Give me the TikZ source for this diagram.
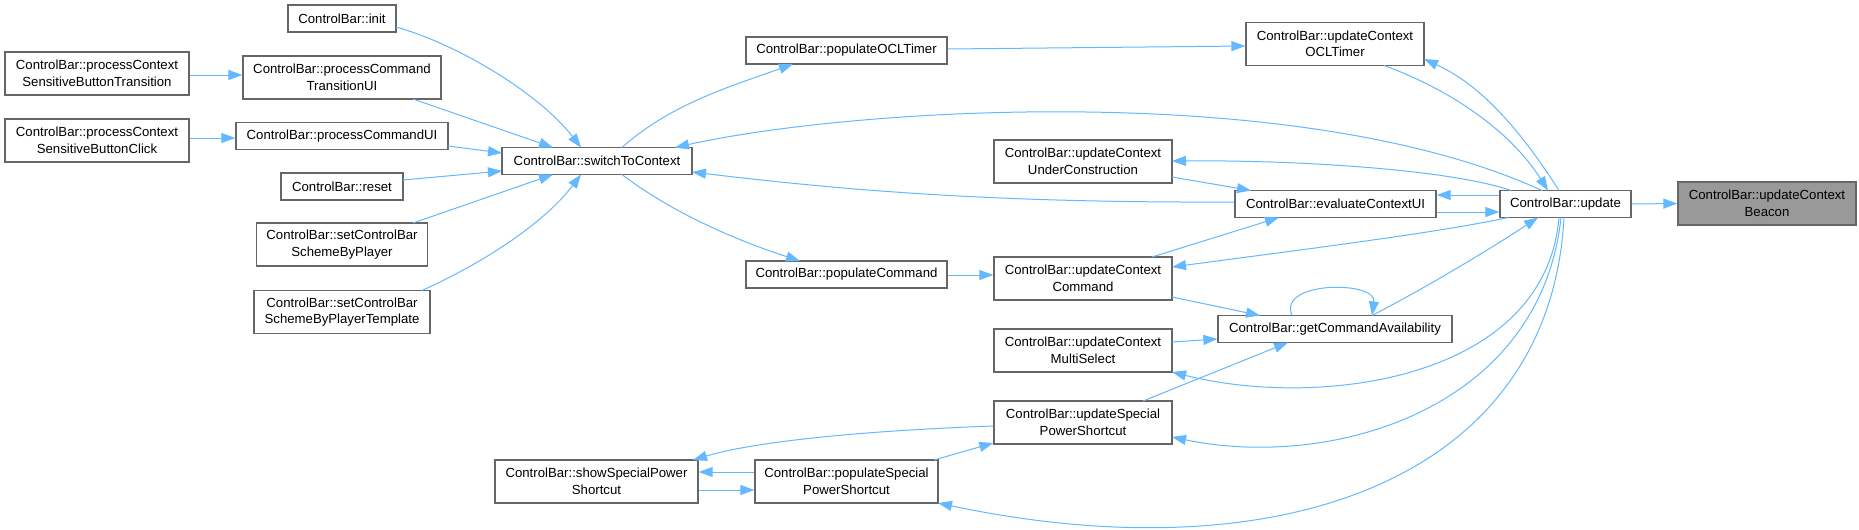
\documentclass[tikz,border=0pt]{standalone}
\usepackage{fontspec}
\setmainfont{Liberation Sans}
\usetikzlibrary{arrows.meta,calc}
\definecolor{edgeblue}{HTML}{63B8FF}
\definecolor{boxgray}{HTML}{666666}
\definecolor{rootfill}{HTML}{999999}
\begin{document}
\begin{tikzpicture}[x=0.75pt,y=-0.75pt,
  fn/.style={draw=boxgray, line width=1pt, fill=white, inner sep=0pt, align=center,
             font=\fontsize{9.9}{12.4}\selectfont},
  fn1/.style={fn, minimum height=20.25pt},
  fn2/.style={fn, minimum height=32.25pt},
  bw/.style={minimum width=#1*0.75pt},
  lnk/.style={draw=edgeblue, line width=0.75pt, -{Triangle[length=10.5pt,width=7.5pt]}}
]
\useasboundingbox[fill=white] (0,0) rectangle (1859,529);

% nodes
\node[fn1,bw=108] (init) at (342,18.5) {ControlBar::init};
\node[fn2,bw=184] (pcsbt) at (97,73.5) {ControlBar::processContext\\SensitiveButtonTransition};
\node[fn2,bw=198] (pctui) at (342,77.5) {ControlBar::processCommand\\TransitionUI};
\node[fn2,bw=184] (pcsbc) at (97,140.5) {ControlBar::processContext\\SensitiveButtonClick};
\node[fn1,bw=212] (pcui) at (342,136) {ControlBar::processCommandUI};
\node[fn1,bw=190] (sw) at (597,161) {ControlBar::switchToContext};
\node[fn1,bw=122] (reset) at (342,186.5) {ControlBar::reset};
\node[fn2,bw=171] (setp) at (342,244.5) {ControlBar::setControlBar\\SchemeByPlayer};
\node[fn2,bw=176] (setpt) at (342,312) {ControlBar::setControlBar\\SchemeByPlayerTemplate};
\node[fn1,bw=201] (popocl) at (846.5,50.5) {ControlBar::populateOCLTimer};
\node[fn2,bw=178] (ucocl) at (1335,44) {ControlBar::updateContext\\OCLTimer};
\node[fn2,bw=178] (ucuc) at (1083,161.5) {ControlBar::updateContext\\UnderConstruction};
\node[fn1,bw=201] (eval) at (1335.5,204) {ControlBar::evaluateContextUI};
\node[fn1,bw=131] (upd) at (1565.5,204) {ControlBar::update};
\node[fn2,bw=178,fill=rootfill] (beacon) at (1767,203.5) {ControlBar::updateContext\\Beacon};
\node[fn1,bw=201] (popcmd) at (846.5,274.5) {ControlBar::populateCommand};
\node[fn2,bw=178] (uccmd) at (1083,278.5) {ControlBar::updateContext\\Command};
\node[fn1,bw=234] (getca) at (1335,329) {ControlBar::getCommandAvailability};
\node[fn2,bw=178] (ucms) at (1083,350.5) {ControlBar::updateContext\\MultiSelect};
\node[fn2,bw=178] (ucsp) at (1083,422.5) {ControlBar::updateSpecial\\PowerShortcut};
\node[fn2,bw=203] (showsp) at (596.5,481.5) {ControlBar::showSpecialPower\\Shortcut};
\node[fn2,bw=183] (popsp) at (846.5,481.5) {ControlBar::populateSpecial\\PowerShortcut};

% edges
\draw[lnk] (upd.east) -- (beacon.west);
\draw[lnk] ($(init.center)+(54,8.5)$) .. controls +(64,18) and +(-41,-53) .. ($(sw.center)+(-16,-13.5)$);
\draw[lnk] ($(pctui.center)+(71,21.5)$) -- ($(sw.center)+(-44,-13.5)$);
\draw[lnk] ($(pcui.center)+(106,10)$) -- ($(sw.center)+(-95,-8)$);
\draw[lnk] ($(reset.center)+(61,-6.5)$) -- ($(sw.center)+(-95,10)$);
\draw[lnk] ($(setp.center)+(71,-21.5)$) -- ($(sw.center)+(-44,13.5)$);
\draw[lnk] ($(setpt.center)+(80,-21.5)$) .. controls +(77,-35) and +(-31,41) .. ($(sw.center)+(-16,13.5)$);
\draw[lnk] ($(pcsbt.east)+(0,1.5)$) -- ($(pctui.west)+(0,-2.5)$);
\draw[lnk] ($(pcsbc.east)+(0,-2.5)$) -- ($(pcui.west)+(0,2)$);
\draw[lnk] ($(sw.center)+(25,-13.5)$) .. controls +(50,-45) and +(-55,20) .. ($(popocl.center)+(-53.5,13.5)$);
\draw[lnk] ($(popocl.east)+(0,-1.5)$) -- ($(ucocl.west)+(0,2)$);
\draw[lnk] ($(sw.center)+(25,13.5)$) .. controls +(55,42) and +(-55,-18) .. ($(popcmd.center)+(-46.5,-13.5)$);
\draw[lnk] ($(popcmd.east)+(0,0.5)$) -- ($(uccmd.west)+(0,-3.5)$);
\draw[lnk] ($(upd.center)+(-23.5,-13.5)$) .. controls +(-242,-111) and +(180,-40) .. ($(sw.center)+(78,-13.5)$);
\draw[lnk] ($(ucocl.center)+(49,21.5)$) .. controls +(66,24) and +(-38,-60) .. ($(upd.center)+(-17.5,-13.5)$);
\draw[lnk] ($(upd.center)+(-6.5,-13.5)$) .. controls +(-39,-61) and +(57,26) .. ($(ucocl.center)+(89,15)$);
\draw[lnk] ($(upd.center)+(-54.5,-13.5)$) .. controls +(-61,-21) and +(127,-1) .. ($(ucuc.center)+(89,-0.5)$);
\draw[lnk] ($(upd.west)+(0,-9)$) -- ($(eval.east)+(0,-9)$);
\draw[lnk] ($(eval.east)+(0,8)$) -- ($(upd.west)+(0,8)$);
\draw[lnk] ($(eval.west)+(0,-2)$) .. controls +(-235,1) and +(158,19) .. ($(sw.center)+(95,11)$);
\draw[lnk] ($(ucuc.center)+(89,15.5)$) -- ($(eval.center)+(-84.5,-13.5)$);
\draw[lnk] ($(uccmd.center)+(69,-21.5)$) -- ($(eval.center)+(-56.5,13.5)$);
\draw[lnk] ($(upd.center)+(-57.5,13.5)$) .. controls +(-68,15) and +(127,-17) .. ($(uccmd.center)+(89,-11.5)$);
\draw[lnk] ($(uccmd.center)+(89,18.5)$) -- ($(getca.center)+(-75,-13.5)$);
\draw[lnk] ($(getca.center)+(-43,-13.5)$) .. controls +(-15,-35) and +(5,-35) .. ($(getca.center)+(37,-13.5)$);
\draw[lnk] ($(getca.center)+(37,-13.5)$) .. controls +(50,-26) and +(-58,38) .. ($(upd.center)+(-27.5,13.5)$);
\draw[lnk] ($(ucms.center)+(89,-8.5)$) -- ($(getca.west)+(0,10)$);
\draw[lnk] ($(upd.center)+(-6.5,13.5)$) .. controls +(-14,163) and +(147,37) .. ($(ucms.center)+(89,21.5)$);
\draw[lnk] ($(upd.center)+(-4.5,13.5)$) .. controls +(-21,193) and +(158,33) .. ($(ucsp.center)+(89,14.5)$);
\draw[lnk] ($(upd.center)+(-1.5,13.5)$) .. controls +(-14,263) and +(341,72) .. ($(popsp.center)+(91.5,21.5)$);
\draw[lnk] ($(ucsp.center)+(60,-21.5)$) -- ($(getca.center)+(-47,13.5)$);
\draw[lnk] ($(ucsp.west)+(0,3.5)$) .. controls +(-114,4) and +(67,-20) .. ($(showsp.center)+(96.5,-21.5)$);
\draw[lnk] ($(popsp.center)+(87.5,-21.5)$) -- ($(ucsp.west)+(0,20.5)$);
\draw[lnk] ($(popsp.west)+(0,-9.5)$) -- ($(showsp.east)+(0,-9.5)$);
\draw[lnk] ($(showsp.east)+(0,8.5)$) -- ($(popsp.west)+(0,8.5)$);
\end{tikzpicture}
\end{document}
